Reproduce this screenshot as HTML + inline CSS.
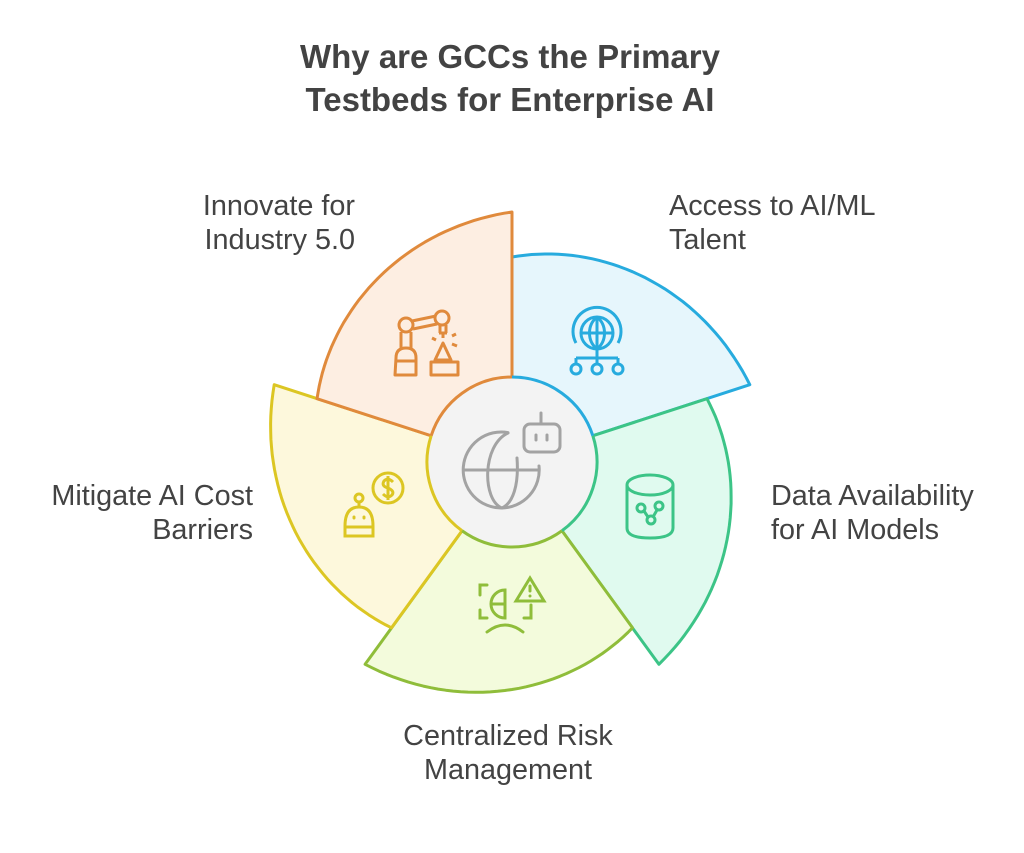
<!DOCTYPE html>
<html><head><meta charset="utf-8"><style>
html,body{margin:0;padding:0;background:#fff;}
body{width:1024px;height:853px;overflow:hidden;}
svg{display:block;}
text{font-family:"Liberation Sans",sans-serif;fill:#434343;}
</style></head><body>
<svg id="s" width="1024" height="853" viewBox="0 0 1024 853" xmlns="http://www.w3.org/2000/svg">
<text x="510" y="68" text-anchor="middle" font-size="33" font-weight="bold">Why are GCCs the Primary</text>
<text x="510" y="111" text-anchor="middle" font-size="33" font-weight="bold">Testbeds for Enterprise AI</text>
<g id="segs"></g>
<circle cx="512" cy="462" r="85" fill="#f3f3f3"/>
<g id="rim" fill="none" stroke-width="3"></g>
<!-- center icon -->
<g fill="none" stroke="#a3a3a3" stroke-width="3" stroke-linecap="round">
<path d="M508 432.6 A38 38 0 1 0 539 466"/>
<path d="M464 470 H539"/>
<path d="M508 433 C482 445 482 500 502 508"/>
<path d="M517 458 C519 485 513 503 502 508"/>
<rect x="524" y="424" width="36" height="28" rx="6"/>
<path d="M541 424 V413"/><path d="M536 435 V440 M547 435 V440"/>
</g>
<!-- orange icon -->
<g fill="none" stroke="#e08a3c" stroke-width="3" stroke-linejoin="round">
<circle cx="406" cy="325" r="7"/><circle cx="442" cy="318" r="7"/>
<path d="M412 321 L436 316 M413 329 L437 324"/>
<path d="M401 332 V348 M411 332 V348"/>
<path d="M396 358 Q396 348 406 348 Q416 348 416 358 V375 H395 Z M395 361 H416"/>
<path d="M440 325 V333 M446 325 V333 M439 333 H447 M443 333 V338"/>
<path d="M443 343 L435 360 H451 Z M431 362 H458 V375 H431 Z"/>
<path d="M432 338 L436 340 M452 336 L456 334 M452 344 L457 346"/>
</g>
<!-- blue icon -->
<g fill="none" stroke="#27abde" stroke-width="3">
<circle cx="597" cy="333" r="16"/><path d="M581 333 H613 M597 317 V349 M597 317 C587 325 587 341 597 349 M597 317 C607 325 607 341 597 349"/>
<path d="M576 343 A24 24 0 1 1 618 343"/>
<path d="M597 349 V358 M576 358 H618 M576 358 V364 M618 358 V364 M597 358 V364"/>
<circle cx="576" cy="369" r="5"/><circle cx="597" cy="369" r="5"/><circle cx="618" cy="369" r="5"/>
</g>
<!-- green icon -->
<g fill="none" stroke="#3cc487" stroke-width="3">
<ellipse cx="650" cy="485" rx="23" ry="10"/>
<path d="M627 485 V528 Q627 538 650 538 Q673 538 673 528 V485"/>
<circle cx="641" cy="508" r="4"/><circle cx="659" cy="506" r="4"/><circle cx="651" cy="520" r="4"/>
<path d="M644 511 L648 517 M657 510 L653 517"/>
</g>
<!-- lime icon -->
<g fill="none" stroke="#8fbd3a" stroke-width="3" stroke-linecap="round">
<path d="M487 585 H480 V595 M480 610 V618 H487 M531 605 V618 H524"/>
<path d="M505 590 A14 14 0 1 0 505 618 Z M491 604 H505"/>
<path d="M516 601 L530 578 L544 601 Z M530 586 V591 M530 596 V596"/>
<path d="M487 632 Q505 618 523 632"/>
</g>
<!-- yellow icon -->
<g fill="none" stroke="#dcc623" stroke-width="3">
<circle cx="388" cy="488" r="15"/>
<path d="M393 482 Q388 477 384 481 Q381 486 388 488 Q395 491 392 495 Q388 499 383 494 M388 476 V500"/>
<circle cx="359" cy="498" r="4"/><path d="M359 502 V507"/>
<path d="M345 526 Q345 507 359 507 Q373 507 373 526 V536 H345 Z M345 527 H373"/>
<path d="M354 517 V518 M364 517 V518" stroke-linecap="round"/>
</g>
<g font-size="28.8">
<text x="355" y="215" text-anchor="end">Innovate for</text>
<text x="355" y="249" text-anchor="end">Industry 5.0</text>
<text x="669" y="215">Access to AI/ML</text>
<text x="669" y="249">Talent</text>
<text x="771" y="505">Data Availability</text>
<text x="771" y="539">for AI Models</text>
<text x="253" y="505" text-anchor="end">Mitigate AI Cost</text>
<text x="253" y="539" text-anchor="end">Barriers</text>
<text x="508" y="745" text-anchor="middle">Centralized Risk</text>
<text x="508" y="779" text-anchor="middle">Management</text>
</g>
</svg>
<script>
(function(){
var cx=512,cy=462,ns="http://www.w3.org/2000/svg";
var segs=[
 {a:-90,s:"#27abde",f:"#e6f6fc"},
 {a:-18,s:"#3cc487",f:"#e0faef"},
 {a:54,s:"#8fbd3a",f:"#f3fbdc"},
 {a:126,s:"#dcc623",f:"#fdf8dc"},
 {a:198,s:"#e08a3c",f:"#fdeee2"}];
var g=document.getElementById("segs"),rim=document.getElementById("rim");
segs.forEach(function(o){
 var d="M"+cx+" "+cy;
 for(var i=0;i<=40;i++){var t=i/40,a=(o.a+72*t)*Math.PI/180,r=205+45*t;
  d+=" L"+(cx+r*Math.cos(a)).toFixed(1)+" "+(cy+r*Math.sin(a)).toFixed(1);}
 d+=" Z";
 var p=document.createElementNS(ns,"path");p.setAttribute("d",d);p.setAttribute("fill",o.f);
 p.setAttribute("stroke",o.s);p.setAttribute("stroke-width","3");p.setAttribute("stroke-linejoin","round");g.appendChild(p);
 var a1=o.a*Math.PI/180,a2=(o.a+72)*Math.PI/180,R=85;
 var q=document.createElementNS(ns,"path");
 q.setAttribute("d","M"+(cx+R*Math.cos(a1))+" "+(cy+R*Math.sin(a1))+" A85 85 0 0 1 "+(cx+R*Math.cos(a2))+" "+(cy+R*Math.sin(a2)));
 q.setAttribute("stroke",o.s);rim.appendChild(q);
});
})();
</script>
</body></html>
